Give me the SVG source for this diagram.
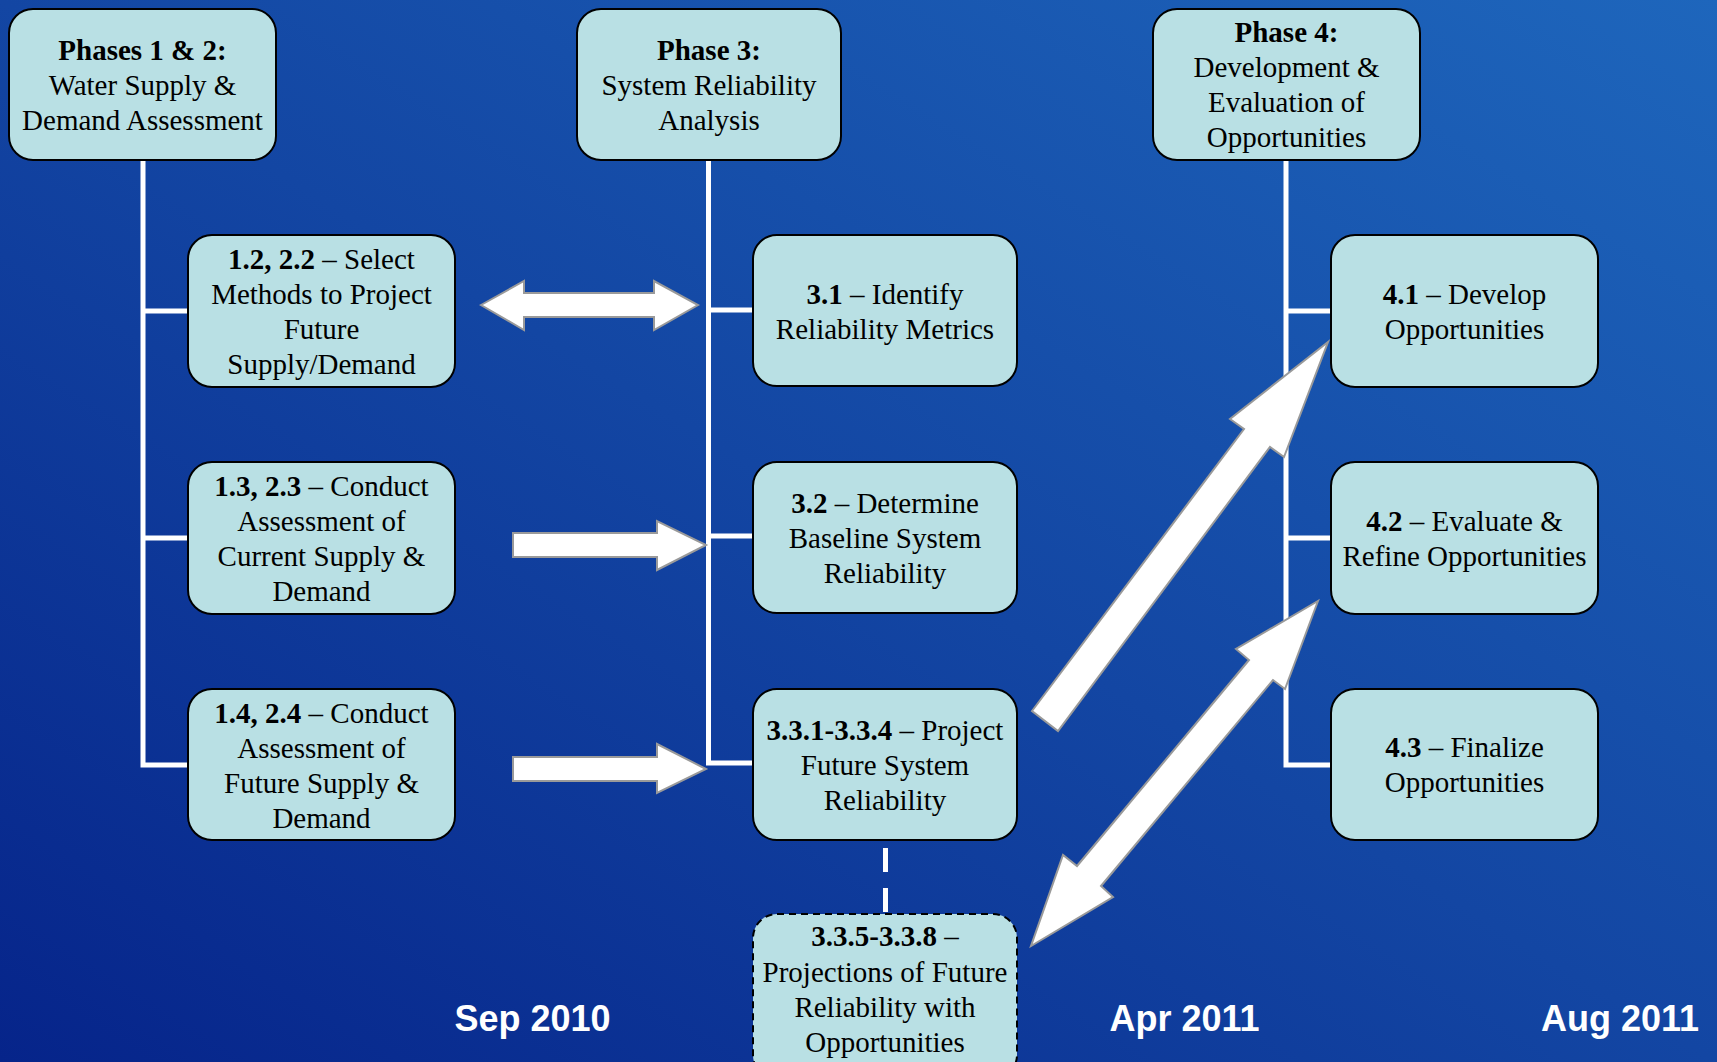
<svg xmlns="http://www.w3.org/2000/svg" width="1717" height="1062" viewBox="0 0 1717 1062">
<defs>
<linearGradient id="bg" x1="0" y1="1" x2="1" y2="0">
<stop offset="0" stop-color="#06248a"/>
<stop offset="0.5" stop-color="#1346a3"/>
<stop offset="1" stop-color="#1e66bc"/>
</linearGradient>
<style>
.box{fill:#b9e0e4;stroke:#000;stroke-width:2}
.dbox{fill:#b9e0e4;stroke:#000;stroke-width:2;stroke-dasharray:7 5}
.t{font-family:"Liberation Serif","Times New Roman",serif;font-size:29px;fill:#000;text-anchor:middle}
.b{font-weight:bold}
.ln{stroke:#fff;stroke-width:5;fill:none}
.arr{fill:#fff;stroke:#9a9a9a;stroke-width:2;stroke-linejoin:miter}
.date{font-family:"Liberation Sans",Arial,sans-serif;font-size:36px;font-weight:bold;fill:#fff;text-anchor:middle}
</style>
</defs>
<rect x="0" y="0" width="1717" height="1062" fill="url(#bg)"/>

<g id="connectors">
<polyline class="ln" points="143,160 143,765 188,765"/>
<line class="ln" x1="143" y1="311" x2="188" y2="311"/>
<line class="ln" x1="143" y1="538" x2="188" y2="538"/>
<polyline class="ln" points="708.5,160 708.5,763 753,763"/>
<line class="ln" x1="708.5" y1="310" x2="753" y2="310"/>
<line class="ln" x1="708.5" y1="536" x2="753" y2="536"/>
<polyline class="ln" points="1286,160 1286,765 1331,765"/>
<line class="ln" x1="1286" y1="311" x2="1331" y2="311"/>
<line class="ln" x1="1286" y1="538" x2="1331" y2="538"/>
<line class="ln" x1="885.5" y1="848" x2="885.5" y2="913" stroke-dasharray="24 16"/>
<polygon class="arr" points="481,305 524,281 524,293 654,293 654,281 698,305 654,330 654,317 524,317 524,330"/>
<polygon class="arr" points="513,533 657,533 657,521 706,545 657,570 657,557 513,557"/>
<polygon class="arr" points="513,757 657,757 657,744 706,769 657,793 657,781 513,781"/>
<polygon class="arr" points="1032,711 1244,429 1230,419 1328,342 1284,457 1270,447 1058,731"/>
<polygon class="arr" points="1318,601 1285,689 1273,680 1101,886 1113,897 1031,946 1063,855 1077,866 1249,660 1236,649"/>
</g>

<g id="phase12">
<rect class="box" x="9" y="9" width="267" height="151" rx="24"/>
<text class="t" x="142.5" y="60"><tspan class="b">Phases 1 &amp; 2:</tspan></text>
<text class="t" x="142.5" y="95">Water Supply &amp;</text>
<text class="t" x="142.5" y="130">Demand Assessment</text>
</g>
<g id="phase3">
<rect class="box" x="577" y="9" width="264" height="151" rx="24"/>
<text class="t" x="709" y="60"><tspan class="b">Phase 3:</tspan></text>
<text class="t" x="709" y="95">System Reliability</text>
<text class="t" x="709" y="130">Analysis</text>
</g>
<g id="phase4">
<rect class="box" x="1153" y="9" width="267" height="151" rx="24"/>
<text class="t" x="1286.5" y="42"><tspan class="b">Phase 4:</tspan></text>
<text class="t" x="1286.5" y="77">Development &amp;</text>
<text class="t" x="1286.5" y="112">Evaluation of</text>
<text class="t" x="1286.5" y="147">Opportunities</text>
</g>

<g id="task12">
<rect class="box" x="188" y="235" width="267" height="152" rx="24"/>
<text class="t" x="321.5" y="269"><tspan class="b">1.2, 2.2</tspan> – Select</text>
<text class="t" x="321.5" y="304">Methods to Project</text>
<text class="t" x="321.5" y="339">Future</text>
<text class="t" x="321.5" y="374">Supply/Demand</text>
</g>
<g id="task13">
<rect class="box" x="188" y="462" width="267" height="152" rx="24"/>
<text class="t" x="321.5" y="496"><tspan class="b">1.3, 2.3</tspan> – Conduct</text>
<text class="t" x="321.5" y="531">Assessment of</text>
<text class="t" x="321.5" y="566">Current Supply &amp;</text>
<text class="t" x="321.5" y="601">Demand</text>
</g>
<g id="task14">
<rect class="box" x="188" y="689" width="267" height="151" rx="24"/>
<text class="t" x="321.5" y="723"><tspan class="b">1.4, 2.4</tspan> – Conduct</text>
<text class="t" x="321.5" y="758">Assessment of</text>
<text class="t" x="321.5" y="793">Future Supply &amp;</text>
<text class="t" x="321.5" y="828">Demand</text>
</g>

<g id="task31">
<rect class="box" x="753" y="235" width="264" height="151" rx="24"/>
<text class="t" x="885" y="304"><tspan class="b">3.1</tspan> – Identify</text>
<text class="t" x="885" y="339">Reliability Metrics</text>
</g>
<g id="task32">
<rect class="box" x="753" y="462" width="264" height="151" rx="24"/>
<text class="t" x="885" y="513"><tspan class="b">3.2</tspan> – Determine</text>
<text class="t" x="885" y="548">Baseline System</text>
<text class="t" x="885" y="583">Reliability</text>
</g>
<g id="task331">
<rect class="box" x="753" y="689" width="264" height="151" rx="24"/>
<text class="t" x="885" y="740"><tspan class="b">3.3.1-3.3.4</tspan> – Project</text>
<text class="t" x="885" y="775">Future System</text>
<text class="t" x="885" y="810">Reliability</text>
</g>
<g id="task335">
<rect class="dbox" x="753" y="914" width="264" height="165" rx="24"/>
<text class="t" x="885" y="946"><tspan class="b">3.3.5-3.3.8</tspan> –</text>
<text class="t" x="885" y="982">Projections of Future</text>
<text class="t" x="885" y="1017">Reliability with</text>
<text class="t" x="885" y="1052">Opportunities</text>
</g>

<g id="task41">
<rect class="box" x="1331" y="235" width="267" height="152" rx="24"/>
<text class="t" x="1464.5" y="304"><tspan class="b">4.1</tspan> – Develop</text>
<text class="t" x="1464.5" y="339">Opportunities</text>
</g>
<g id="task42">
<rect class="box" x="1331" y="462" width="267" height="152" rx="24"/>
<text class="t" x="1464.5" y="531"><tspan class="b">4.2</tspan> – Evaluate &amp;</text>
<text class="t" x="1464.5" y="566">Refine Opportunities</text>
</g>
<g id="task43">
<rect class="box" x="1331" y="689" width="267" height="151" rx="24"/>
<text class="t" x="1464.5" y="757"><tspan class="b">4.3</tspan> – Finalize</text>
<text class="t" x="1464.5" y="792">Opportunities</text>
</g>

<g id="dates">
<text class="date" x="532.5" y="1031">Sep 2010</text>
<text class="date" x="1184.5" y="1031">Apr 2011</text>
<text class="date" x="1620" y="1031">Aug 2011</text>
</g>
</svg>
